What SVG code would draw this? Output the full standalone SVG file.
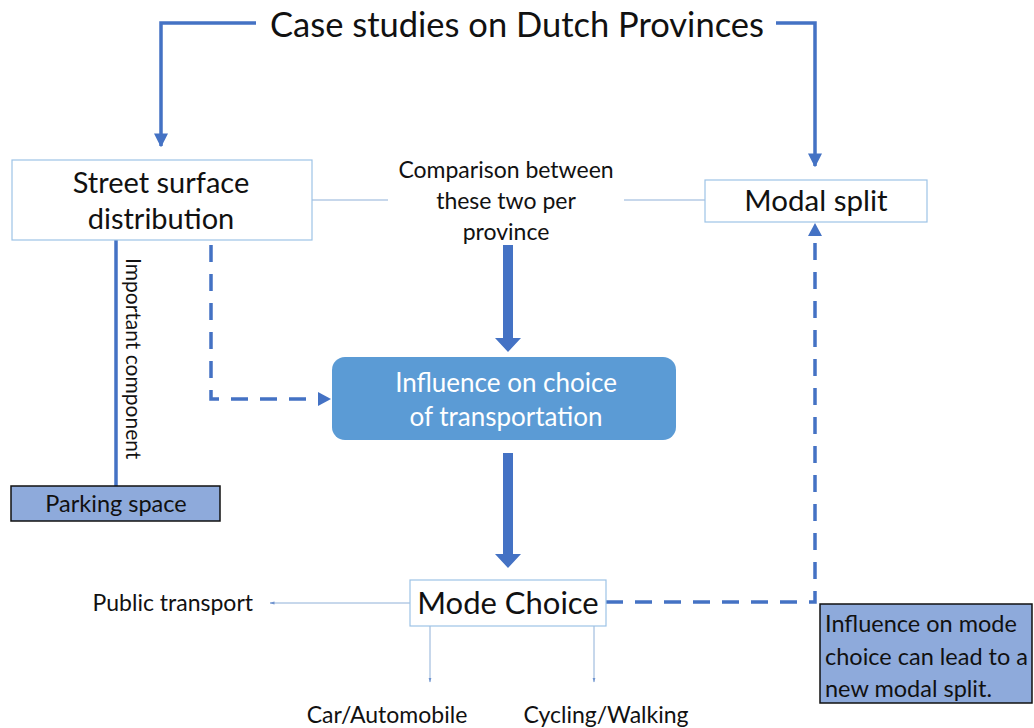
<svg xmlns="http://www.w3.org/2000/svg" width="1034" height="728" viewBox="0 0 1034 728">
<defs>
<style>
text{font-family:Lato,"Open Sans","Liberation Sans",sans-serif;fill:#111}
.c{stroke:#4472c4;fill:none;stroke-width:3.5}
.d{stroke:#4472c4;fill:none;stroke-width:3.5;stroke-dasharray:17 12}
.t{stroke:#8fb0d8;fill:none;stroke-width:1}
.box{fill:#fff;stroke:#9dc3e6;stroke-width:1.2}
.pb{fill:#8eaadb;stroke:#111;stroke-width:1.5}
</style>
<marker id="a" viewBox="0 0 10 10" refX="9" refY="5" markerWidth="4" markerHeight="4" orient="auto"><path d="M0,0L10,5L0,10z" fill="#4472c4"/></marker>
<marker id="s" viewBox="0 0 10 10" refX="9" refY="5" markerWidth="5" markerHeight="5" markerUnits="userSpaceOnUse" orient="auto"><path d="M0,2L10,5L0,8z" fill="#6f93cf"/></marker>
</defs>
<g id="connectors">
<path class="c" d="M256,23H161V146" marker-end="url(#a)"/>
<path class="c" d="M776,23H815V166" marker-end="url(#a)"/>
<path class="t" d="M312,200H388M624,200H705"/>
<path d="M503,245h10v93h8l-13,14l-13,-14h8z" fill="#4472c4"/>
<path d="M503,453h10v101h8l-13,14l-13,-14h8z" fill="#4472c4"/>
<path class="d" d="M211,245V399H318"/>
<path d="M318,392L331,399L318,406z" fill="#4472c4"/>
<path class="c" d="M116,240V487"/>
<path class="t" d="M410,603H270" marker-end="url(#s)"/>
<path class="t" d="M430,626V682" marker-end="url(#s)"/>
<path class="t" d="M594,626V682" marker-end="url(#s)"/>
<path class="d" d="M606,602H815V236"/>
<path d="M808,236L815,223L822,236z" fill="#4472c4"/>
</g>
<g id="title"><text x="517" y="37" font-size="34.5" text-anchor="middle">Case studies on Dutch Provinces</text></g>
<g id="street"><rect class="box" x="12" y="160" width="300" height="80"/>
<text x="161" y="193" font-size="29" text-anchor="middle">Street surface</text>
<text x="161" y="229" font-size="29" text-anchor="middle">distribution</text></g>
<g id="comparison"><text font-size="23" text-anchor="middle"><tspan x="506" y="178">Comparison between</tspan><tspan x="506" y="209">these two per</tspan><tspan x="506" y="240">province</tspan></text></g>
<g id="modalsplit"><rect class="box" x="705" y="180" width="222" height="42"/>
<text x="816" y="211" font-size="29.5" text-anchor="middle">Modal split</text></g>
<g id="influence"><rect x="332" y="357" width="344" height="83" rx="13" fill="#5b9bd5"/>
<text font-size="26" text-anchor="middle" style="fill:#fff"><tspan x="506" y="392">Influence on choice</tspan><tspan x="506" y="426">of transportation</tspan></text></g>
<g id="important"><text transform="translate(126,258) rotate(90)" font-size="21">Important component</text></g>
<g id="parking"><rect class="pb" x="11" y="486" width="209" height="35"/>
<text x="116" y="512" font-size="23.5" text-anchor="middle">Parking space</text></g>
<g id="modechoice"><rect class="box" x="410" y="580" width="196" height="46"/>
<text x="508" y="614" font-size="31" text-anchor="middle">Mode Choice</text></g>
<g id="public"><text x="253" y="611" font-size="23" text-anchor="end">Public transport</text></g>
<g id="car"><text x="387" y="723" font-size="23" text-anchor="middle">Car/Automobile</text></g>
<g id="cycling"><text x="606" y="723" font-size="23" text-anchor="middle">Cycling/Walking</text></g>
<g id="newsplit"><rect class="pb" x="820" y="604" width="212" height="99"/>
<text font-size="23.5"><tspan x="825" y="632">Influence on mode</tspan><tspan x="825" y="665">choice can lead to a</tspan><tspan x="825" y="697">new modal split.</tspan></text></g>
</svg>
